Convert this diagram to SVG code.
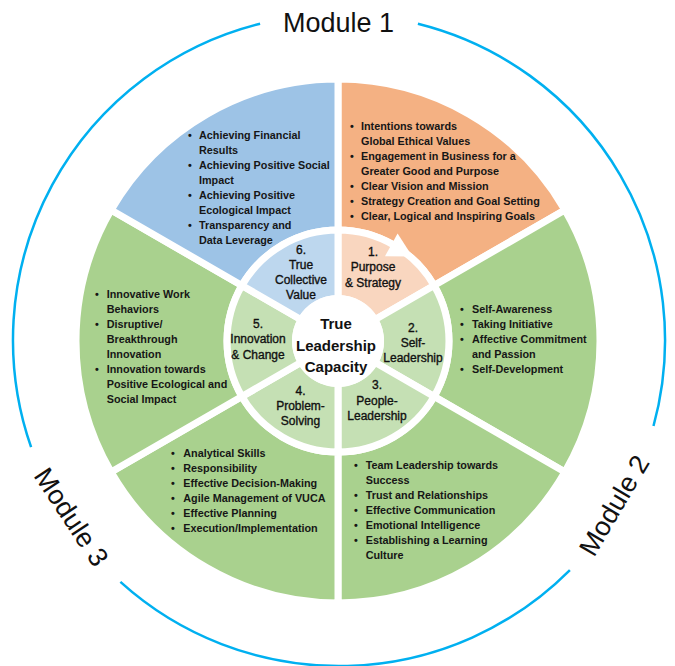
<svg xmlns="http://www.w3.org/2000/svg" width="675" height="666" viewBox="0 0 675 666">
<style>
.bg{fill:#fff}
.seg{stroke:#fff;stroke-width:7;stroke-linejoin:miter}
.orange{fill:#F4B183}.orangeL{fill:#F9D6BF}
.blue{fill:#9DC3E6}.blueL{fill:#BDD7EE}
.green{fill:#A9D18E}.greenL{fill:#C5E0B4}
.t{font-family:"Liberation Sans",Arial,sans-serif;font-size:10.8px;font-weight:bold;fill:#161616}
.b{font-family:"Liberation Sans",Arial,sans-serif;font-size:10.8px;font-weight:bold;fill:#161616;text-anchor:middle}
.r{font-family:"Liberation Sans",Arial,sans-serif;font-size:12px;fill:#111;stroke:#111;stroke-width:0.35;text-anchor:middle}
.c{font-family:"Liberation Sans",Arial,sans-serif;font-size:15px;font-weight:bold;fill:#111;text-anchor:middle}
.m{font-family:"Liberation Sans",Arial,sans-serif;font-size:27px;fill:#111;text-anchor:middle}
.ring{fill:none;stroke:#00B0F0;stroke-width:2.5}
</style>
<rect class="bg" x="0" y="0" width="675" height="666"/>

<g id="modules">
  <path class="ring" d="M417.9,23.7 A326,326 0 0 1 653.5,426"/>
  <path class="ring" d="M569.9,570.1 A326,326 0 0 1 120.4,581.9"/>
  <path class="ring" d="M31.1,447.2 A326,326 0 0 1 260.1,23.7"/>
  <text class="m" x="338.5" y="32">Module 1</text>
  <text class="m" transform="translate(613.5,505) rotate(-59.5)" x="0" y="10">Module 2</text>
  <text class="m" transform="translate(72,516.6) rotate(56.5)" x="0" y="10">Module 3</text>
</g>

<g id="seg1">
  <path class="seg orange" d="M338,79 A262,262 0 0 1 564.9,210 L434.1,285.5 A111,111 0 0 0 338,230 Z"/>
  <path class="seg orangeL" d="M338,230 A111,111 0 0 1 434.1,285.5 L374.8,319.75 A42.5,42.5 0 0 0 338,298.5 Z"/>
  <text class="b" x="352" y="130">•</text><text class="t" x="361" y="130">Intentions towards</text>
  <text class="t" x="361" y="145">Global Ethical Values</text>
  <text class="b" x="352" y="160">•</text><text class="t" x="361" y="160">Engagement in Business for a</text>
  <text class="t" x="361" y="175">Greater Good and Purpose</text>
  <text class="b" x="352" y="190">•</text><text class="t" x="361" y="190">Clear Vision and Mission</text>
  <text class="b" x="352" y="205">•</text><text class="t" x="361" y="205">Strategy Creation and Goal Setting</text>
  <text class="b" x="352" y="220">•</text><text class="t" x="361" y="220">Clear, Logical and Inspiring Goals</text>
</g>

<g id="seg2">
  <path class="seg green" d="M564.9,210 A262,262 0 0 1 564.9,472 L434.1,396.5 A111,111 0 0 0 434.1,285.5 Z"/>
  <path class="seg greenL" d="M434.1,285.5 A111,111 0 0 1 434.1,396.5 L374.8,362.25 A42.5,42.5 0 0 0 374.8,319.75 Z"/>
  <text class="b" x="462" y="312.5">•</text><text class="t" x="472" y="312.5">Self-Awareness</text>
  <text class="b" x="462" y="327.5">•</text><text class="t" x="472" y="327.5">Taking Initiative</text>
  <text class="b" x="462" y="343">•</text><text class="t" x="472" y="343">Affective Commitment</text>
  <text class="t" x="472" y="358">and Passion</text>
  <text class="b" x="462" y="373">•</text><text class="t" x="472" y="373">Self-Development</text>
</g>

<g id="seg3">
  <path class="seg green" d="M564.9,472 A262,262 0 0 1 338,603 L338,452 A111,111 0 0 0 434.1,396.5 Z"/>
  <path class="seg greenL" d="M434.1,396.5 A111,111 0 0 1 338,452 L338,383.5 A42.5,42.5 0 0 0 374.8,362.25 Z"/>
  <text class="b" x="356" y="469">•</text><text class="t" x="365.7" y="469">Team Leadership towards</text>
  <text class="t" x="365.7" y="484">Success</text>
  <text class="b" x="356" y="499">•</text><text class="t" x="365.7" y="499">Trust and Relationships</text>
  <text class="b" x="356" y="514">•</text><text class="t" x="365.7" y="514">Effective Communication</text>
  <text class="b" x="356" y="529">•</text><text class="t" x="365.7" y="529">Emotional Intelligence</text>
  <text class="b" x="356" y="544">•</text><text class="t" x="365.7" y="544">Establishing a Learning</text>
  <text class="t" x="365.7" y="559">Culture</text>
</g>

<g id="seg4">
  <path class="seg green" d="M338,603 A262,262 0 0 1 111.1,472 L241.9,396.5 A111,111 0 0 0 338,452 Z"/>
  <path class="seg greenL" d="M338,452 A111,111 0 0 1 241.9,396.5 L301.2,362.25 A42.5,42.5 0 0 0 338,383.5 Z"/>
  <text class="b" x="173" y="456.5">•</text><text class="t" x="183.3" y="456.5">Analytical Skills</text>
  <text class="b" x="173" y="471.5">•</text><text class="t" x="183.3" y="471.5">Responsibility</text>
  <text class="b" x="173" y="486.5">•</text><text class="t" x="183.3" y="486.5">Effective Decision-Making</text>
  <text class="b" x="173" y="501.5">•</text><text class="t" x="183.3" y="501.5">Agile Management of VUCA</text>
  <text class="b" x="173" y="516.5">•</text><text class="t" x="183.3" y="516.5">Effective Planning</text>
  <text class="b" x="173" y="531.5">•</text><text class="t" x="183.3" y="531.5">Execution/Implementation</text>
</g>

<g id="seg5">
  <path class="seg green" d="M111.1,472 A262,262 0 0 1 111.1,210 L241.9,285.5 A111,111 0 0 0 241.9,396.5 Z"/>
  <path class="seg greenL" d="M241.9,396.5 A111,111 0 0 1 241.9,285.5 L301.2,319.75 A42.5,42.5 0 0 0 301.2,362.25 Z"/>
  <text class="b" x="97" y="297.5">•</text><text class="t" x="106.7" y="297.5">Innovative Work</text>
  <text class="t" x="106.7" y="312.5">Behaviors</text>
  <text class="b" x="97" y="327.5">•</text><text class="t" x="106.7" y="327.5">Disruptive/</text>
  <text class="t" x="106.7" y="342.5">Breakthrough</text>
  <text class="t" x="106.7" y="357.5">Innovation</text>
  <text class="b" x="97" y="372.5">•</text><text class="t" x="106.7" y="372.5">Innovation towards</text>
  <text class="t" x="106.7" y="387.5">Positive Ecological and</text>
  <text class="t" x="106.7" y="402.5">Social Impact</text>
</g>

<g id="seg6">
  <path class="seg blue" d="M111.1,210 A262,262 0 0 1 338,79 L338,230 A111,111 0 0 0 241.9,285.5 Z"/>
  <path class="seg blueL" d="M241.9,285.5 A111,111 0 0 1 338,230 L338,298.5 A42.5,42.5 0 0 0 301.2,319.75 Z"/>
  <text class="b" x="190" y="139">•</text><text class="t" x="199" y="139">Achieving Financial</text>
  <text class="t" x="199" y="154">Results</text>
  <text class="b" x="190" y="169">•</text><text class="t" x="199" y="169">Achieving Positive Social</text>
  <text class="t" x="199" y="184">Impact</text>
  <text class="b" x="190" y="199">•</text><text class="t" x="199" y="199">Achieving Positive</text>
  <text class="t" x="199" y="214">Ecological Impact</text>
  <text class="b" x="190" y="229">•</text><text class="t" x="199" y="229">Transparency and</text>
  <text class="t" x="199" y="244">Data Leverage</text>
</g>

<g id="arrow">
  <polygon points="397.6,233.4 412.3,256.4 385,256.2" fill="#fff"/>
</g>

<g id="ring-labels">
  <text class="r" x="373" y="256">1.</text>
  <text class="r" x="373" y="271">Purpose</text>
  <text class="r" x="373" y="286.5">&amp; Strategy</text>
  <text class="r" x="413" y="332">2.</text>
  <text class="r" x="413" y="347">Self-</text>
  <text class="r" x="413" y="362">Leadership</text>
  <text class="r" x="377" y="389">3.</text>
  <text class="r" x="377" y="404.5">People-</text>
  <text class="r" x="377" y="420">Leadership</text>
  <text class="r" x="300.5" y="394.5">4.</text>
  <text class="r" x="300.5" y="409.5">Problem-</text>
  <text class="r" x="300.5" y="425">Solving</text>
  <text class="r" x="258" y="328">5.</text>
  <text class="r" x="258" y="343">Innovation</text>
  <text class="r" x="258" y="358.5">&amp; Change</text>
  <text class="r" x="301" y="253.5">6.</text>
  <text class="r" x="301" y="268.8">True</text>
  <text class="r" x="301" y="284">Collective</text>
  <text class="r" x="301" y="299.3">Value</text>
</g>

<g id="center">
  <circle cx="338" cy="341" r="46" fill="#fff"/>
  <text class="c" x="336" y="329">True</text>
  <text class="c" x="336" y="350.5">Leadership</text>
  <text class="c" x="336" y="371.5">Capacity</text>
</g>
</svg>
